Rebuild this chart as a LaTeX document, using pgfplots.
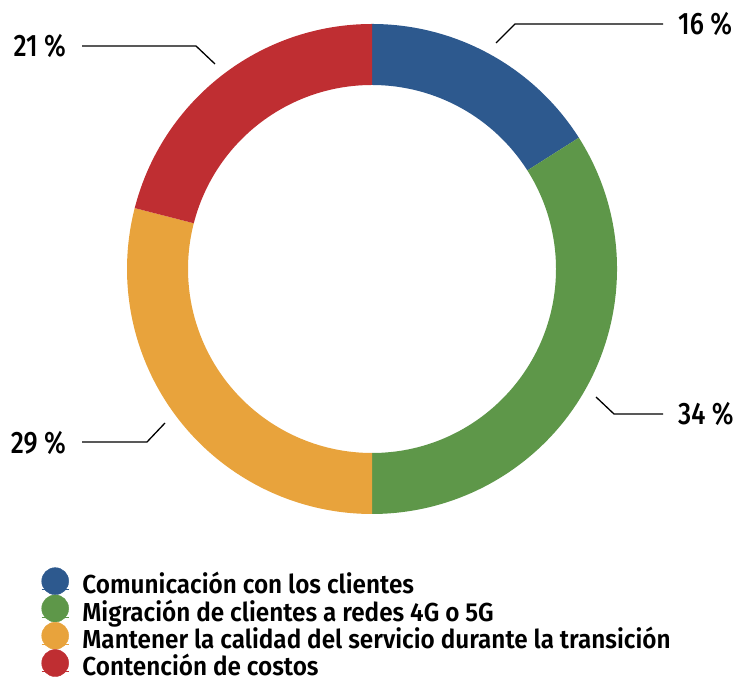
\documentclass[border=0pt]{standalone}
\usepackage{fontspec}
\setmainfont{Fira Sans SemiBold}[FakeStretch=0.935]
\newfontfamily\labfont{Fira Sans Medium}[FakeStretch=0.83]
\usepackage{pgfplots}
\usepackage{pgfplotstable}
\pgfplotsset{compat=1.18}
\definecolor{cA}{RGB}{45,89,142}
\definecolor{cB}{RGB}{94,151,73}
\definecolor{cC}{RGB}{232,163,60}
\definecolor{cD}{RGB}{191,46,50}
\pgfplotstableread{
idx value
0 16
1 34
2 29
3 21
}\donutdata
% cumulative angles (clockwise from top)
\pgfplotstablegetelem{0}{value}\of\donutdata \let\vA\pgfplotsretval
\pgfplotstablegetelem{1}{value}\of\donutdata \let\vB\pgfplotsretval
\pgfplotstablegetelem{2}{value}\of\donutdata \let\vC\pgfplotsretval
\pgfplotstablegetelem{3}{value}\of\donutdata \let\vD\pgfplotsretval
\pgfmathsetmacro\aZ{90}
\pgfmathsetmacro\aA{\aZ-3.6*\vA}
\pgfmathsetmacro\aB{\aA-3.6*\vB}
\pgfmathsetmacro\aC{\aB-3.6*\vC}
\pgfmathsetmacro\aD{\aC-3.6*\vD}
\def\Ro{245pt}\def\Ri{184pt}
\begin{document}%
\begin{tikzpicture}
\begin{axis}[
  x=1pt, y=1pt, xmin=0, xmax=735, ymin=0, ymax=684,
  scale only axis, hide axis, clip=false,
  legend cell align=left,
  legend image code/.code={\path (0pt,0pt) -- (27pt,0pt); \fill[#1,overlay] (13.5pt,8.5pt) circle (13.5pt);},
  legend style={draw=none, fill=none, at={(axis cs:41.5,108)}, anchor=north west,
    inner sep=0pt, outer sep=0pt, row sep=0pt, column sep=13.5pt,
    font=\fontsize{26}{26}\selectfont,
    nodes={inner sep=0pt, text height=18pt, text depth=9.3pt}},
]
\coordinate (LL) at (axis cs:0,0);
\coordinate (UR) at (axis cs:735,684);
\begin{scope}[shift={(axis cs:372,415)}]
\fill[cA] (\aZ:\Ro) arc[start angle=\aZ, end angle=\aA, radius=\Ro] -- (\aA:\Ri) arc[start angle=\aA, end angle=\aZ, radius=\Ri] -- cycle;
\fill[cB] (\aA:\Ro) arc[start angle=\aA, end angle=\aB, radius=\Ro] -- (\aB:\Ri) arc[start angle=\aB, end angle=\aA, radius=\Ri] -- cycle;
\fill[cC] (\aB:\Ro) arc[start angle=\aB, end angle=\aC, radius=\Ro] -- (\aC:\Ri) arc[start angle=\aC, end angle=\aB, radius=\Ri] -- cycle;
\fill[cD] (\aC:\Ro) arc[start angle=\aC, end angle=\aD, radius=\Ro] -- (\aD:\Ri) arc[start angle=\aD, end angle=\aC, radius=\Ri] -- cycle;
\end{scope}
% leader lines
\draw[black, line width=1.3pt] (axis cs:496,641) -- (axis cs:515,660) -- (axis cs:663,660);
\draw[black, line width=1.3pt] (axis cs:215,620) -- (axis cs:196,638) -- (axis cs:82,638);
\draw[black, line width=1.3pt] (axis cs:165,261) -- (axis cs:147,242) -- (axis cs:82,242);
\draw[black, line width=1.3pt] (axis cs:596,287) -- (axis cs:614,270) -- (axis cs:663,270);
\tikzset{lab/.style={inner sep=0pt, font=\labfont\fontsize{31}{31}\selectfont}}
\node[lab, anchor=west] at (axis cs:678,660) {\vA\ \%};
\node[lab, anchor=west] at (axis cs:678,270) {\vB\ \%};
\node[lab, anchor=east] at (axis cs:66,241) {\vC\ \%};
\node[lab, anchor=east] at (axis cs:66,638) {\vD\ \%};
\addlegendimage{cA}\addlegendentry{Comunicación con los clientes}
\addlegendimage{cB}\addlegendentry{Migración de clientes a redes 4G o 5G}
\addlegendimage{cC}\addlegendentry{Mantener la calidad del servicio durante la transición}
\addlegendimage{cD}\addlegendentry{Contención de costos}
\end{axis}
\pgfresetboundingbox
\path (LL) rectangle (UR);
\end{tikzpicture}%
\end{document}
